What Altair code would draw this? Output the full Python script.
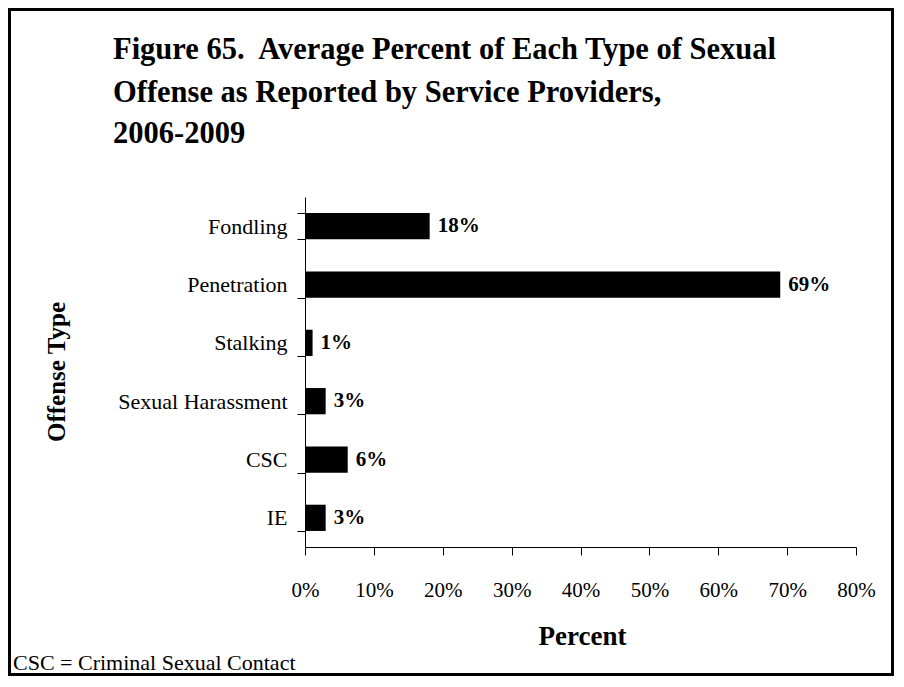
import altair as alt
import pandas as pd

categories = ["Fondling", "Penetration", "Stalking", "Sexual Harassment", "CSC", "IE"]
values = [18.1, 69.0, 1.1, 3.0, 6.2, 3.0]
value_labels = ["18%", "69%", "1%", "3%", "6%", "3%"]
x_ticks = [0, 10, 20, 30, 40, 50, 60, 70, 80]
title_lines = [
    "Figure 65.\u00a0 Average Percent of Each Type of Sexual",
    "Offense as Reported by Service Providers,",
    "2006-2009",
]
x_title = "Percent"
y_title = "Offense Type"
footnote = "CSC = Criminal Sexual Contact"

SERIF = "Liberation Serif"
PL, PT, W, H, PR, PB = 297, 189, 551, 350, 38, 129

df = pd.DataFrame({"cat": categories, "val": values, "lab": value_labels})
dummy = pd.DataFrame({"d": [0]})

y_enc = alt.Y(
    "cat:N",
    sort=categories,
    scale=alt.Scale(paddingInner=0.55, paddingOuter=0.275),
    axis=alt.Axis(
        title=None,
        labelFont=SERIF,
        labelFontSize=22,
        labelColor="black",
        labelPadding=10,
        tickSize=8,
        tickBand="extent",
        tickColor="black",
        domainColor="black",
        labelLimit=400,
    ),
)

x_enc = alt.X(
    "val:Q",
    scale=alt.Scale(domain=[0, 80], nice=False),
    axis=alt.Axis(
        title=None,
        values=x_ticks,
        labelExpr="datum.value + '%'",
        labelFont=SERIF,
        labelFontSize=21,
        labelColor="black",
        labelPadding=24,
        labelFlush=False,
        labelOverlap=False,
        tickSize=8,
        tickColor="black",
        domainColor="black",
        grid=False,
    ),
)

bars = alt.Chart(df).mark_bar(color="black").encode(x=x_enc, y=y_enc)

labels = alt.Chart(df).mark_text(
    align="left", baseline="middle", dx=8, font=SERIF, fontSize=21,
    fontWeight="bold", color="black"
).encode(x="val:Q", y=alt.Y("cat:N", sort=categories), text="lab:N")

layers = [bars, labels]

title_y = [-138, -95, -54]
for line, yy in zip(title_lines, title_y):
    layers.append(
        alt.Chart(dummy).mark_text(
            align="left", baseline="alphabetic", font=SERIF, fontSize=30.5,
            fontWeight="bold", color="black"
        ).encode(x=alt.value(-192), y=alt.value(yy), text=alt.value(line))
    )

layers.append(
    alt.Chart(dummy).mark_text(
        align="center", baseline="middle", font=SERIF, fontSize=25,
        fontWeight="bold", color="black", angle=270
    ).encode(x=alt.value(-248), y=alt.value(H / 2), text=alt.value(y_title))
)
layers.append(
    alt.Chart(dummy).mark_text(
        align="center", baseline="alphabetic", font=SERIF, fontSize=27,
        fontWeight="bold", color="black"
    ).encode(x=alt.value(W / 2 + 2), y=alt.value(448), text=alt.value(x_title))
)
layers.append(
    alt.Chart(dummy).mark_text(
        align="left", baseline="alphabetic", font=SERIF, fontSize=22,
        color="black"
    ).encode(x=alt.value(-292), y=alt.value(PB + H - 6), text=alt.value(footnote))
)
layers.append(
    alt.Chart(dummy).mark_rect(filled=False, stroke="black", strokeWidth=3).encode(
        x=alt.value(-PL + 1.5),
        x2=alt.value(W + PR - 1.5),
        y=alt.value(-PT + 1.5),
        y2=alt.value(H + PB - 1.5),
    )
)

chart = alt.layer(*layers).properties(
    width=W,
    height=H,
    background="white",
    autosize=alt.AutoSizeParams(type="none"),
    padding={"left": PL, "top": PT, "right": PR, "bottom": PB},
).configure_view(strokeWidth=0, stroke=None)

chart.save("out.html", embed_options={"renderer": "svg", "actions": False})
